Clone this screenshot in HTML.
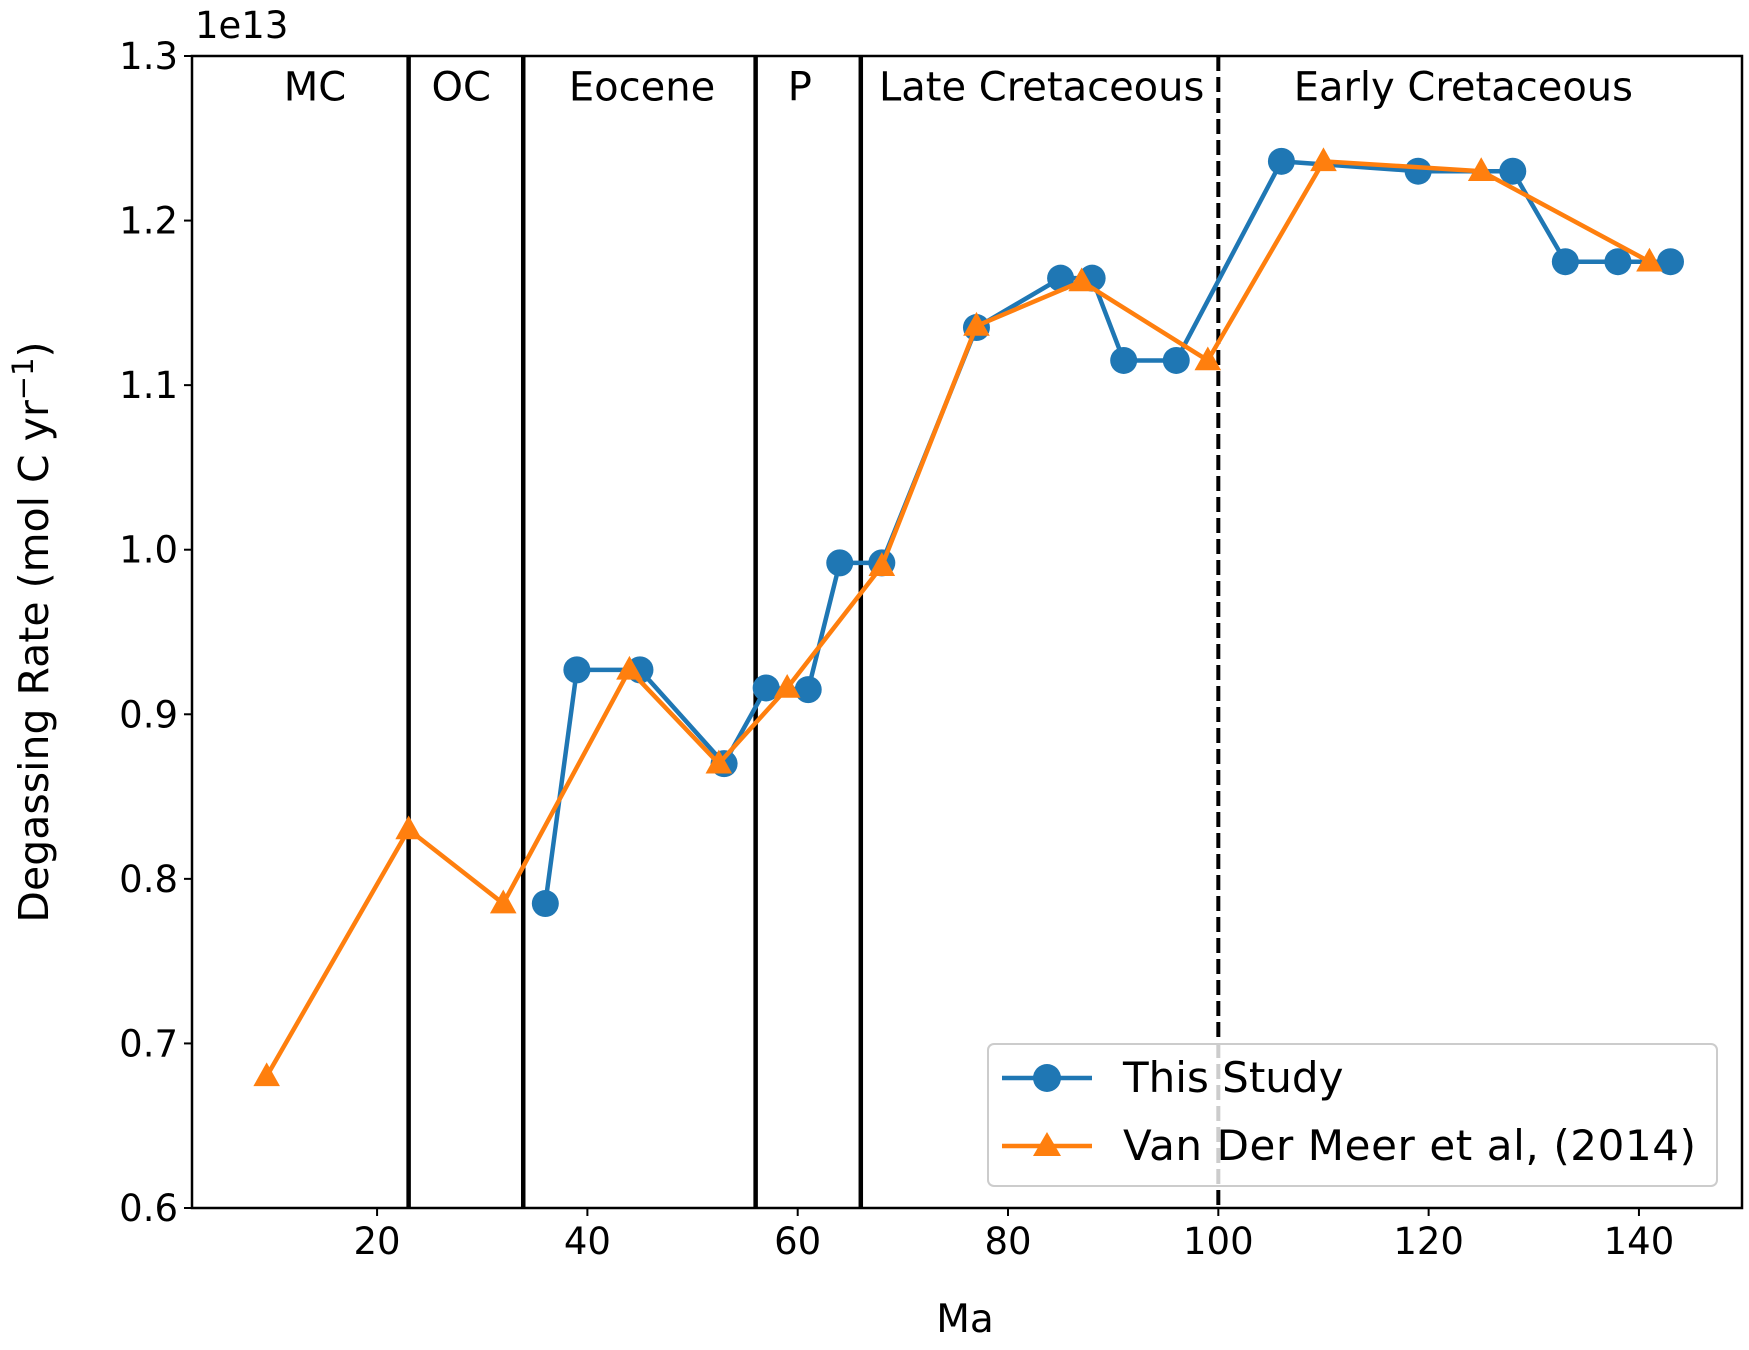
<!DOCTYPE html>
<html><head><meta charset="utf-8"><style>
html,body{margin:0;padding:0;background:#fff;}
svg{display:block;font-family:"DejaVu Sans","Liberation Sans",sans-serif;}
</style></head><body>
<svg id="chart" width="1749" height="1350" viewBox="0 0 1749 1350" xmlns="http://www.w3.org/2000/svg"></svg>
<script>
const xTicks=[20,40,60,80,100,120,140];
const yTicks=[0.6,0.7,0.8,0.9,1.0,1.1,1.2,1.3];
const blueX=[36,39,45,53,57,61,64,68,77,85,88,91,96,106,119,128,133,138,143];
const blueY=[0.785,0.927,0.927,0.87,0.916,0.915,0.992,0.992,1.135,1.165,1.165,1.115,1.115,1.236,1.23,1.23,1.175,1.175,1.175];
const orangeX=[9.5,23,32,44,52.5,59,68,77,87,99,110,125,141];
const orangeY=[0.68,0.83,0.785,0.927,0.87,0.916,0.99,1.136,1.163,1.115,1.236,1.23,1.175];
const boundaries=[23,33.9,56,66];
const dashedBoundary=[100];
const periodNames=["MC","OC","Eocene","P","Late Cretaceous","Early Cretaceous"];
const periodPos=[14.1,28,45.2,60.2,83.2,123.3];

const L=192,R=1742,T=56,B=1208;
const xmin=2.4,xmax=149.8,ymin=0.6,ymax=1.3;
const sx=v=>L+(v-xmin)/(xmax-xmin)*(R-L);
const sy=v=>B-(v-ymin)/(ymax-ymin)*(B-T);
const svg=document.getElementById('chart');
const NS='http://www.w3.org/2000/svg';
function mk(tag,attrs,parent){const e=document.createElementNS(NS,tag);for(const k in attrs)e.setAttribute(k,attrs[k]);(parent||svg).appendChild(e);return e;}

boundaries.forEach(b=>{const l=mk('line',{x1:sx(b),x2:sx(b),y1:T,y2:B,stroke:'#000','stroke-width':4.5});

});
dashedBoundary.forEach(b=>{const l=mk('line',{x1:sx(b),x2:sx(b),y1:T,y2:B,stroke:'#000','stroke-width':4,'stroke-dasharray':'15,6'});

});
periodNames.forEach((n,i)=>{const t=mk('text',{x:sx(periodPos[i]),y:sy(1.276)+5,'text-anchor':'middle','font-size':40,fill:'#000'});t.textContent=n;

});

function series(xs,ys,color,marker,name){
  const g=mk('g',{});
  
  
  mk('polyline',{points:xs.map((x,i)=>sx(x)+','+sy(ys[i])).join(' '),fill:'none',stroke:color,'stroke-width':4.5,'stroke-linejoin':'round'},g);
  xs.forEach((x,i)=>{let m;
    if(marker==='o'){m=mk('circle',{cx:sx(x),cy:sy(ys[i]),r:13.5,fill:color},g);}
    else{const cx=sx(x),cy=sy(ys[i]),r=14;m=mk('polygon',{points:`${cx},${cy-r} ${cx+r*0.95},${cy+r*0.7} ${cx-r*0.95},${cy+r*0.7}`,fill:color},g);}
    
    
  });
}
series(blueX,blueY,'#1f77b4','o','this-study-series');
series(orangeX,orangeY,'#ff7f0e','^','van-der-meer-series');

const fr=mk('rect',{x:L,y:T,width:R-L,height:B-T,fill:'none',stroke:'#000','stroke-width':2.5});


xTicks.forEach(v=>{mk('line',{x1:sx(v),x2:sx(v),y1:B,y2:B+8,stroke:'#000','stroke-width':2});
const t=mk('text',{x:sx(v),y:B+46,'text-anchor':'middle','font-size':37});t.textContent=v;

});
yTicks.forEach(v=>{mk('line',{x1:L-8,x2:L,y1:sy(v),y2:sy(v),stroke:'#000','stroke-width':2});
const t=mk('text',{x:L-14,y:sy(v)+13,'text-anchor':'end','font-size':37});t.textContent=v.toFixed(1);

});
</script>
<svg style="position:absolute;left:0;top:0" width="1749" height="1350" xmlns="http://www.w3.org/2000/svg" font-family="DejaVu Sans, Liberation Sans, sans-serif">
<text x="195" y="38" font-size="37">1e13</text>
<text x="965" y="1332" font-size="39" text-anchor="middle">Ma</text>
<text transform="translate(48,632) rotate(-90)" font-size="41" text-anchor="middle">Degassing Rate (mol C yr<tspan dy="-15" font-size="29">−1</tspan><tspan dy="15">)</tspan></text>
<g>
<rect x="988" y="1044" width="729" height="142" rx="6" fill="#fff" fill-opacity="0.8" stroke="#ccc" stroke-width="2"/>
<line x1="1002" x2="1092" y1="1078" y2="1078" stroke="#1f77b4" stroke-width="4.5"/>
<circle cx="1047" cy="1078" r="14" fill="#1f77b4"/>
<text x="1123" y="1092" font-size="42">This Study</text>
<line x1="1002" x2="1092" y1="1146" y2="1146" stroke="#ff7f0e" stroke-width="4.5"/>
<polygon points="1047,1132 1061,1156 1033,1156" fill="#ff7f0e"/>
<text x="1123" y="1160" font-size="42" textLength="573">Van Der Meer et al, (2014)</text>
</g>
</svg>
</body></html>
